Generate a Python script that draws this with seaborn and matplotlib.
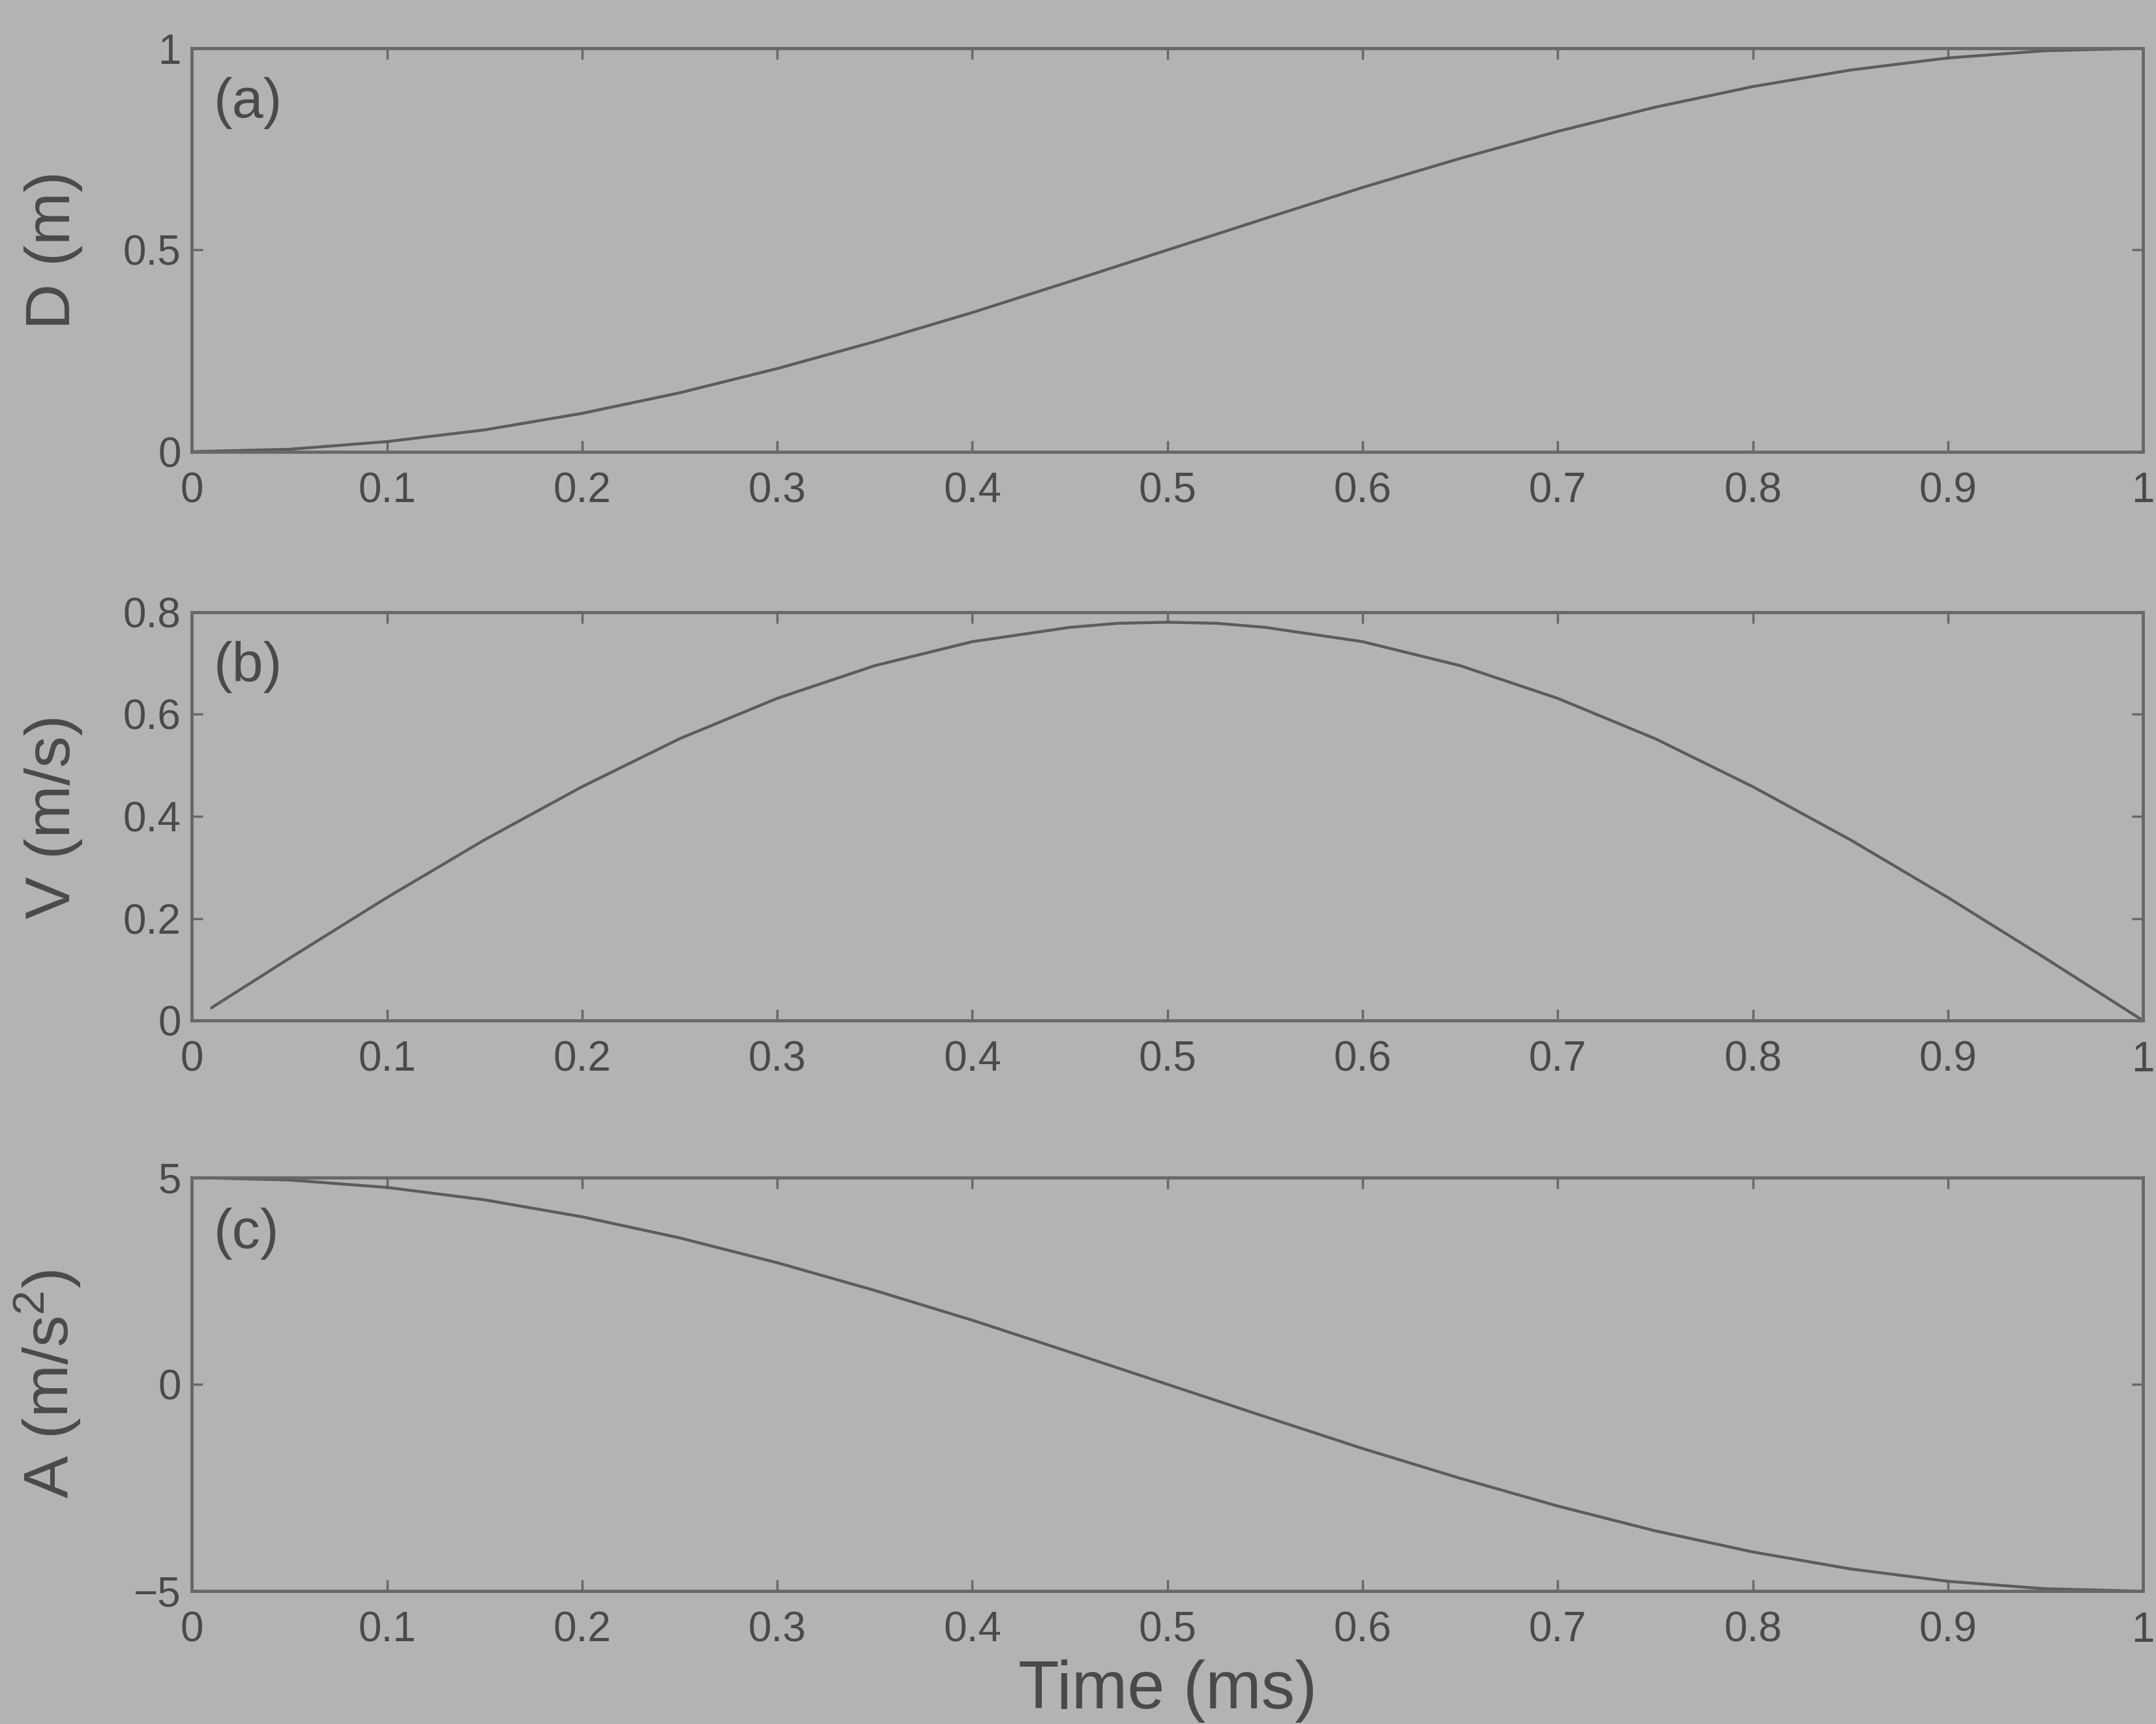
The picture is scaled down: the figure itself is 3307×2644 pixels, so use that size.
import numpy as np
import pandas as pd
import matplotlib
matplotlib.use("Agg")
import matplotlib.pyplot as plt
import seaborn as sns

# values
t_d = [0.0, 0.05, 0.1, 0.15, 0.2, 0.25, 0.3, 0.35, 0.4, 0.45, 0.5,
       0.55, 0.6, 0.65, 0.7, 0.75, 0.8, 0.85, 0.9, 0.95, 1.0]
disp = [0.0, 0.006, 0.025, 0.054, 0.095, 0.146, 0.206, 0.273, 0.345, 0.422, 0.5,
        0.578, 0.655, 0.727, 0.794, 0.854, 0.905, 0.946, 0.976, 0.994, 1.0]

t_v = [0.01, 0.05, 0.1, 0.15, 0.2, 0.25, 0.3, 0.35, 0.4, 0.45, 0.475, 0.5, 0.525,
       0.55, 0.6, 0.65, 0.7, 0.75, 0.8, 0.85, 0.9, 0.95, 1.0]
vel = [0.025, 0.122, 0.241, 0.354, 0.458, 0.552, 0.631, 0.695, 0.742, 0.770, 0.778, 0.78, 0.778,
       0.770, 0.742, 0.695, 0.631, 0.552, 0.458, 0.354, 0.241, 0.122, 0.0]

t_a = t_d
acc = [5.0, 4.94, 4.76, 4.46, 4.05, 3.54, 2.94, 2.27, 1.55, 0.78, 0.0,
       -0.78, -1.55, -2.27, -2.94, -3.54, -4.05, -4.46, -4.76, -4.94, -5.0]

x_ticks = [0, 0.1, 0.2, 0.3, 0.4, 0.5, 0.6, 0.7, 0.8, 0.9, 1]
x_labels = ["0", "0.1", "0.2", "0.3", "0.4", "0.5", "0.6", "0.7", "0.8", "0.9", "1"]

panels = [
    ("(a)", "D (m)", t_d, disp, (0, 1), [0, 0.5, 1], ["0", "0.5", "1"]),
    ("(b)", "V (m/s)", t_v, vel, (0, 0.8), [0, 0.2, 0.4, 0.6, 0.8], ["0", "0.2", "0.4", "0.6", "0.8"]),
    ("(c)", "A (m/s$^2$)", t_a, acc, (-5, 5), [-5, 0, 5], ["\u22125", "0", "5"]),
]

bg = "#b2b3b2"
ink = "#4a4a4a"
spine = "#686868"
curve = "#5c5c5c"

sns.set_theme(style="ticks")
plt.rcParams["font.family"] = ["Liberation Sans", "DejaVu Sans"]
plt.rcParams["mathtext.default"] = "regular"

fig = plt.figure(figsize=(33.07, 26.44), dpi=100, facecolor=bg)
boxes = [(0.089, 0.738, 0.905, 0.234),
         (0.089, 0.408, 0.905, 0.237),
         (0.089, 0.077, 0.905, 0.240)]

for (tag, ylab, tx, yy, ylim, yt, ytl), box in zip(panels, boxes):
    ax = fig.add_axes(box)
    ax.set_facecolor(bg)
    df = pd.DataFrame({"t": tx, "y": yy})
    sns.lineplot(data=df, x="t", y="y", ax=ax, color=curve, linewidth=3.2)
    ax.set_xlim(0, 1)
    ax.set_ylim(*ylim)
    ax.set_xticks(x_ticks)
    ax.set_xticklabels(x_labels)
    ax.set_yticks(yt)
    ax.set_yticklabels(ytl)
    ax.tick_params(direction="in", length=12, width=2.5, color=spine,
                   labelsize=46, labelcolor=ink, top=True, right=True)
    ax.tick_params(axis="x", pad=22)
    ax.tick_params(axis="y", pad=12)
    for s in ax.spines.values():
        s.set_color(spine)
        s.set_linewidth(3.5)
    ax.set_xlabel("")
    ax.set_ylabel(ylab, fontsize=70, color=ink)
    ax.yaxis.set_label_coords(-0.056, 0.5)
    ax.text(0.011, 0.865, tag, transform=ax.transAxes, fontsize=62,
            color=ink, ha="left", va="center")

ax.set_xlabel("Time (ms)", fontsize=74, color=ink, labelpad=10)

fig.savefig("out.png", dpi=100, facecolor=bg)
